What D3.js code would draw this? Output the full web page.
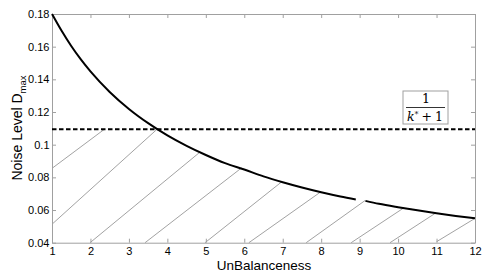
<!DOCTYPE html>
<html>
<head>
<meta charset="utf-8">
<script src="https://cdn.jsdelivr.net/npm/d3@7"></script>
<style>
    body { margin: 0; background: #fff; }
    svg { display: block; font-family: "Liberation Sans", Arial, sans-serif; }
</style>
</head>
<body>
<svg width="485" height="275"></svg>
<script>
"use strict"

// curve D_max vs unbalanceness (split where it breaks near 9)
let curveU1 = [1, 1.25, 1.5, 1.75, 2, 2.5, 3, 3.5, 4, 4.5, 5, 5.5, 6, 6.5, 7, 7.5, 8, 8.5, 8.9]
let curveV1 = [0.18, 0.1697, 0.1604, 0.1522, 0.1449, 0.1323, 0.1219, 0.1132, 0.1057, 0.0993,
               0.0937, 0.0887, 0.0848, 0.0806, 0.0770, 0.0738, 0.0709, 0.0683, 0.0665]
let curveU2 = [9.15, 9.5, 10, 10.5, 11, 11.5, 12]
let curveV2 = [0.0656, 0.0638, 0.0617, 0.0598, 0.0580, 0.0564, 0.0549]

// level 1/(k*+1)
let threshold = 0.1094

// hatch strokes: start (u, D) and end (u, D)
let hatchU0 = [1, 1, 1.99, 3.42, 4.98, 6.12, 7.61, 8.78, 9.79, 11.0]
let hatchV0 = [0.0855, 0.0513, 0.04, 0.04, 0.04, 0.04, 0.04, 0.04, 0.04, 0.0406]
let hatchU1 = [2.36, 3.73, 4.85, 5.93, 6.97, 7.97, 9.14, 10.16, 10.96, 12]
let hatchV1 = [0.1094, 0.1094, 0.0955, 0.0858, 0.0772, 0.0708, 0.0658, 0.0615, 0.0579, 0.0549]

let xTicks = [1, 2, 3, 4, 5, 6, 7, 8, 9, 10, 11, 12]
let yTicks = [0.04, 0.06, 0.08, 0.1, 0.12, 0.14, 0.16, 0.18]
let yTickLabels = ["0.04", "0.06", "0.08", "0.1", "0.12", "0.14", "0.16", "0.18"]

let svg = d3.select("svg"),
    margin = {top: 14, right: 10, bottom: 32.3, left: 52},
    width = +svg.attr("width") - margin.left - margin.right,
    height = +svg.attr("height") - margin.top - margin.bottom

let x = d3.scaleLinear().domain([1, 12]).range([0, width]),
    y = d3.scaleLinear().domain([0.04, 0.18]).range([height, 0])

let g = svg.append("g")
    .attr("transform", "translate(" + margin.left + "," + margin.top + ")")

let axisColor = "#a0a0a0"

// hatching
g.selectAll(".hatch")
    .data(hatchU0.map((u, i) => i))
    .enter().append("line")
    .attr("class", "hatch")
    .attr("x1", i => x(hatchU0[i]))
    .attr("y1", i => y(hatchV0[i]))
    .attr("x2", i => x(hatchU1[i]))
    .attr("y2", i => y(hatchV1[i]))
    .attr("stroke", "#7a7a7a")
    .attr("stroke-width", 0.7)

// box with inward ticks (matlab style)
function styleAxis(sel) {
    sel.select(".domain").attr("stroke", axisColor)
    sel.selectAll(".tick line").attr("stroke", axisColor)
    sel.selectAll(".tick text")
        .attr("fill", "#000")
        .style("font-family", "'Liberation Sans', Arial, sans-serif")
        .style("font-size", "11px")
}

g.append("g")
    .attr("transform", "translate(0," + height + ")")
    .call(d3.axisBottom(x).tickValues(xTicks).tickFormat(d3.format("d"))
          .tickSizeInner(-4).tickSizeOuter(0).tickPadding(5))
    .call(styleAxis)

g.append("g")
    .call(d3.axisTop(x).tickValues(xTicks).tickFormat("")
          .tickSizeInner(-4).tickSizeOuter(0))
    .call(styleAxis)

g.append("g")
    .call(d3.axisLeft(y).tickValues(yTicks).tickFormat((d, i) => yTickLabels[i])
          .tickSizeInner(-4).tickSizeOuter(0).tickPadding(2.5))
    .call(styleAxis)

g.append("g")
    .attr("transform", "translate(" + width + ",0)")
    .call(d3.axisRight(y).tickValues(yTicks).tickFormat("")
          .tickSizeInner(-4).tickSizeOuter(0))
    .call(styleAxis)

// threshold line
g.append("line")
    .attr("x1", x(1)).attr("x2", x(12))
    .attr("y1", y(threshold)).attr("y2", y(threshold))
    .attr("stroke", "#000")
    .attr("stroke-width", 2)
    .attr("stroke-dasharray", "4.5,2.5")

// curve
let line = d3.line()
    .x(d => x(d[0]))
    .y(d => y(d[1]))
    .curve(d3.curveMonotoneX)

g.append("path")
    .datum(curveU1.map((u, i) => [u, curveV1[i]]))
    .attr("d", line)
    .attr("fill", "none")
    .attr("stroke", "#000")
    .attr("stroke-width", 2)

g.append("path")
    .datum(curveU2.map((u, i) => [u, curveV2[i]]))
    .attr("d", line)
    .attr("fill", "none")
    .attr("stroke", "#000")
    .attr("stroke-width", 2)

// label box 1/(k*+1)
let lx = 403, ly = 91
svg.append("rect")
    .attr("x", lx).attr("y", ly)
    .attr("width", 45).attr("height", 33)
    .attr("fill", "#fff")
    .attr("stroke", axisColor)
    .attr("stroke-width", 1)

let serif = "'DejaVu Serif', 'Liberation Serif', serif"
svg.append("text")
    .attr("x", lx + 23).attr("y", ly + 12)
    .attr("text-anchor", "middle")
    .style("font-family", serif)
    .style("font-size", "12.5px")
    .text("1")

svg.append("line")
    .attr("x1", lx + 3).attr("x2", lx + 42)
    .attr("y1", ly + 16.5).attr("y2", ly + 16.5)
    .attr("stroke", "#000")
    .attr("stroke-width", 0.8)

let den = svg.append("text")
    .attr("x", lx + 4).attr("y", ly + 30)
    .style("font-family", serif)
    .style("font-size", "12.5px")
den.append("tspan").style("font-style", "italic").text("k")
den.append("tspan").attr("dy", -4).style("font-size", "8px").text("*")
den.append("tspan").attr("dy", 4).attr("dx", 3).text("+")
den.append("tspan").attr("dx", 3).text("1")

// axis titles
svg.append("text")
    .attr("x", 264).attr("y", 270)
    .attr("text-anchor", "middle")
    .style("font-size", "13.5px")
    .text("UnBalanceness")

let yl = svg.append("text")
    .attr("transform", "translate(21.5,128) rotate(-90)")
    .attr("text-anchor", "middle")
    .style("font-size", "14px")
yl.append("tspan").text("Noise Level D")
yl.append("tspan").attr("dy", 4).style("font-size", "9.5px").text("max")
</script>
</body>
</html>
